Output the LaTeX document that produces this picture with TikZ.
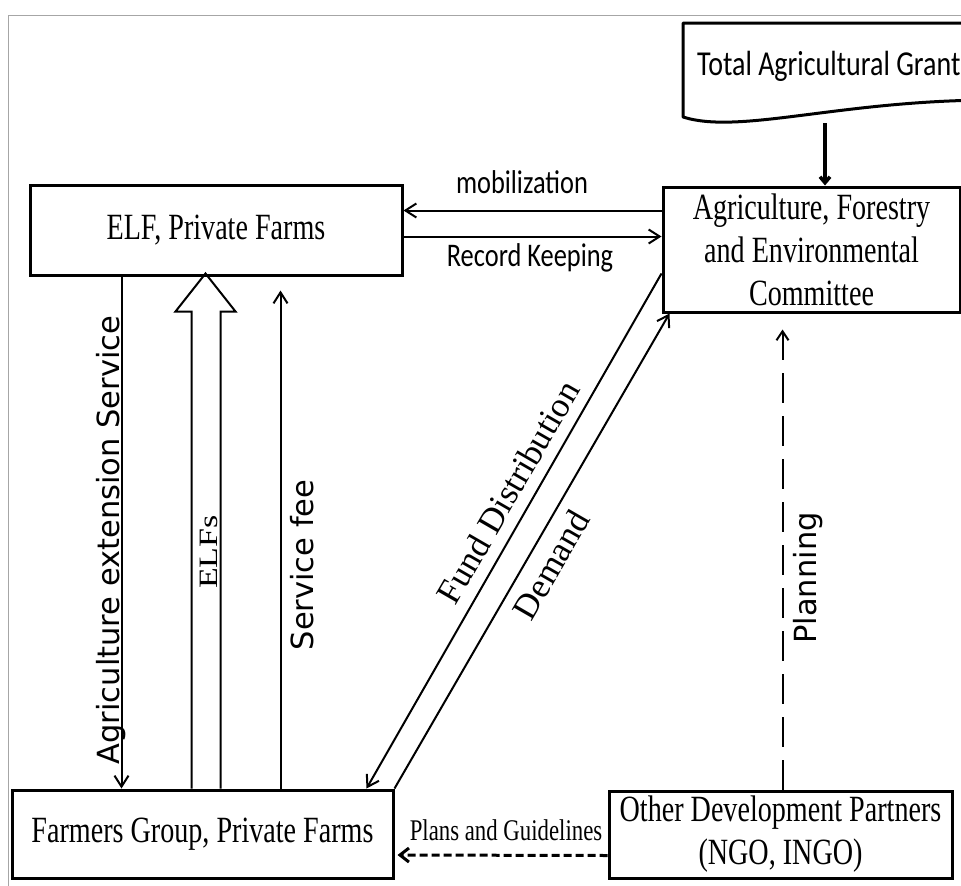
\documentclass[tikz,border=0pt]{standalone}
\usepackage{fontspec}
\usetikzlibrary{arrows.meta,calc}
\setmainfont{Liberation Serif}
\newfontfamily\boxfont[FakeStretch=0.76]{Liberation Serif}
\newfontfamily\calfont[FakeStretch=0.80]{Carlito}
\newfontfamily\vsans{DejaVu Sans}
\newfontfamily\dserif{Liberation Serif}
\begin{document}
\begin{tikzpicture}[x=1pt,y=-1pt,
  boxnode/.style={draw, line width=3pt, inner sep=0pt, align=center,
    font=\boxfont\fontsize{37}{43}\selectfont},
  conn/.style={line width=2pt, -{Straight Barb[length=11pt,width=14pt]}},
  calabel/.style={font=\calfont\fontsize{33}{38}\selectfont, inner sep=0pt},
  vlabel/.style={font=\vsans\fontsize{30.5}{36}\selectfont, inner sep=0pt, rotate=90},
  dlabel/.style={font=\dserif\fontsize{35}{40}\selectfont, inner sep=0pt, rotate=60}]
\useasboundingbox (0,0) rectangle (961,886);
\fill[white] (0,0) rectangle (961,886);
% outer frame
\draw[gray!70, line width=1pt] (8,886) -- (8,15) -- (961,15);

% Total Agricultural Grant (document shape, cut at the right edge)
\draw[line width=3pt, line join=round] (995,100) -- (995,23) -- (683,23) -- (683,117)
  .. controls (740,135) and (840,100) .. (995,100);
\node[calabel, anchor=west, font=\calfont\fontsize{35}{40}\selectfont] (grant) at (697,66) {Total Agricultural Grant};
\coordinate (gb) at (825,123);

% boxes
\node[boxnode, minimum width=372pt, minimum height=90pt] (elf) at (216,230) {ELF, Private Farms};
\node[boxnode, minimum width=297pt, minimum height=125pt] (afe) at (811.5,249.5)
  {Agriculture, Forestry\\and Environmental\\Committee};
\node[boxnode, minimum width=381pt, minimum height=88pt] (farm) at (202.5,834) {Farmers Group, Private Farms};
\node[boxnode, minimum width=343pt, minimum height=87pt] (odp) at (780.5,834.5)
  {Other Development Partners\\(NGO, INGO)};

% grant -> committee
\draw[line width=3.5pt, -{Straight Barb[length=6pt,width=10pt]}] (gb) -- (gb |- afe.north);

% mobilization / record keeping
\draw[conn] ($(afe.north west)+(0,25)$) -- ($(elf.north east)+(0,27)$);
\draw[conn] ($(elf.north east)+(0,53)$) -- ($(afe.north west)+(0,51)$);
\node[calabel] (mob) at (522,182) {mobilization};
\node[calabel] (rec) at (530,258) {Record Keeping};

% left vertical connectors
\draw[conn] ($(elf.south west)+(93,0)$) -- ($(farm.north west)+(111,0)$);
\node[vlabel] (ext) at (111,540) {Agriculture extension Service};

\draw[line width=2pt, line join=miter] ($(farm.north west)+(181,0)$) -- ++(0,-477) -- ++(-16,0)
  -- ++(30,-38) -- ++(30,38) -- ++(-15,0) -- ($(farm.north west)+(210,0)$);
\node[font=\dserif\fontsize{34}{40}\selectfont, inner sep=0pt, rotate=90] (elfs) at (209,552) {\scalebox{1}[0.78]{ELFs}};

\draw[conn, shorten >=14pt] ($(farm.north west)+(270,0)$) -- ($(elf.south west)+(252,0)$);
\node[vlabel] (fee) at (302,565) {Service fee};

% diagonal connectors
\draw[conn] ($(afe.south west)+(0,-40)$) -- ($(farm.north west)+(356,0)$);
\draw[conn] (farm.north east) -- ($(afe.south west)+(8,0)$);
\node[dlabel] (fund) at (508,492) {Fund Distribution};
\node[dlabel] (dem) at (551,565) {Demand};

% planning
\draw[line width=2pt, dash pattern=on 30pt off 13pt, -{Straight Barb[length=9pt,width=12pt]}, shorten >=16pt]
  ($(odp.north west)+(175,0)$) -- ($(afe.south west)+(121,0)$);
\node[vlabel] (plan) at (808,578) {Planning};

% plans and guidelines
\draw[line width=3pt, dash pattern=on 8pt off 4pt, -{Straight Barb[length=9pt,width=14pt]}, shorten >=3pt]
  ($(odp.west)+(0,21)$) -- ($(farm.east)+(0,21)$);
\node[font=\boxfont\fontsize{30}{36}\selectfont, inner sep=0pt] (pg) at (506,830) {Plans and Guidelines};
\end{tikzpicture}
\end{document}
